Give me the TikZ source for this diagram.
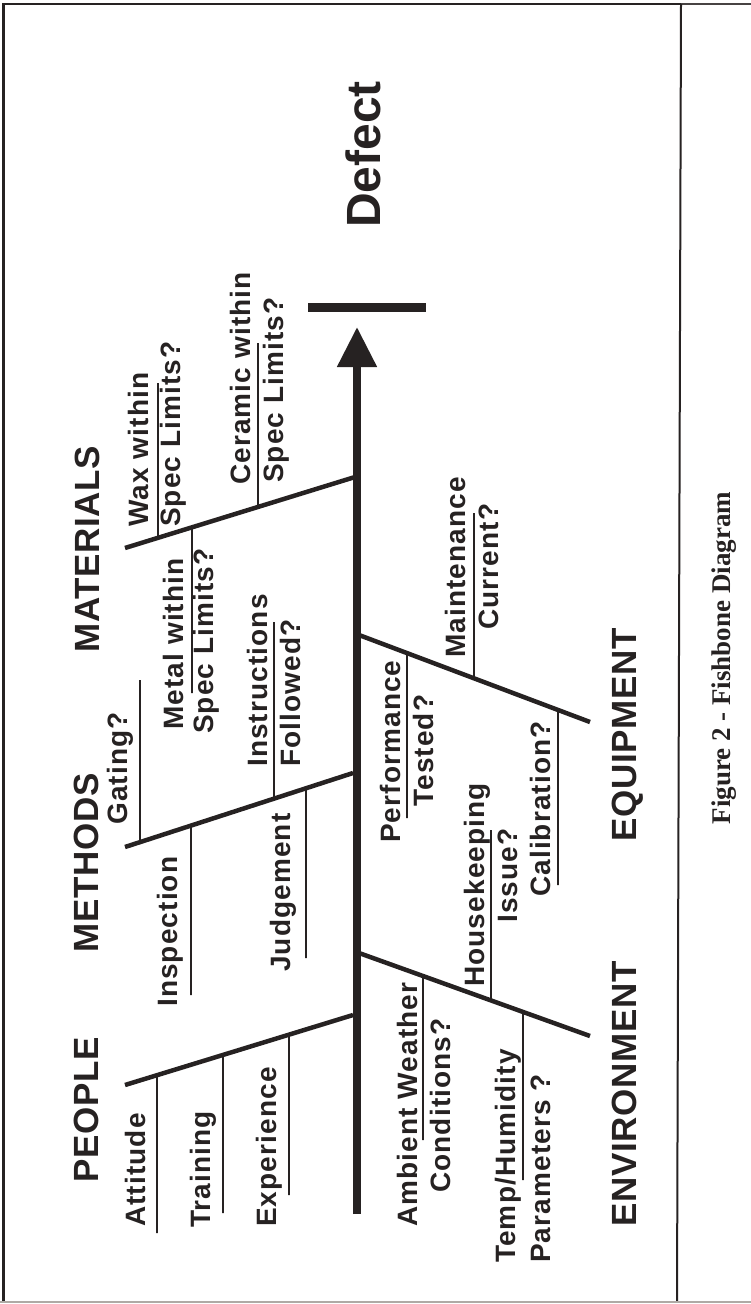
\documentclass[tikz,border=0pt]{standalone}
\usepackage{fontspec}
\setmainfont{Liberation Sans}
\newfontfamily\labfont[LetterSpace=4]{Liberation Sans}
\newfontfamily\hdfont[LetterSpace=2]{Liberation Sans}
\newfontfamily\capfont{Liberation Serif}
\usetikzlibrary{calc,arrows.meta}
\definecolor{ink}{RGB}{38,34,34}
\definecolor{faint}{RGB}{175,170,165}
\begin{document}
\begin{tikzpicture}[x=1pt,y=-1pt,
  lab/.style={font=\labfont\bfseries\fontsize{28}{30}\selectfont, text=ink, rotate=90, anchor=base west, inner sep=0pt},
  head/.style={font=\hdfont\bfseries\fontsize{35}{38}\selectfont, text=ink, rotate=90, anchor=base west, inner sep=0pt},
  branch/.style={draw=ink, line width=4.5pt},
  subbone/.style={draw=ink, line width=1.6pt},
  spine/.style={draw=ink, line width=8pt, -{Triangle[width=38pt,length=40pt]}},
  frame/.style={draw=ink, line width=2.5pt}
]
\useasboundingbox (0,0) rectangle (751,1304);
% frame
\coordinate (fTL) at (3.5,4);
\coordinate (fBL) at (3.5,1302);
\coordinate (fTD) at (681,4);
\coordinate (fBD) at (677,1302);
\coordinate (fTR) at (751,4);
\coordinate (fBR) at (751,1302);
\coordinate (fB0) at (0,1302);
\draw[frame] (fBL) -- (fTL) -- (fTD);
\draw[ink!85, line width=1.5pt] (fTD) -- (fTR);
\draw[ink, line width=2pt] (fTD) -- (fBD);
\draw[faint, line width=2pt] (fB0) -- (fBR);

% spine and head
\coordinate (tail) at (357,1214);
\coordinate (tip) at (357,327);
\draw[spine] (tail) -- (tip);
\coordinate (barL) at (308,307.5);
\coordinate (barR) at (426,307.5);
\draw[draw=ink, line width=9pt] (barL) -- (barR);
\node[font=\bfseries\fontsize{48}{50}\selectfont, text=ink, rotate=90, anchor=base west, inner sep=0pt] (defect) at (380,228) {Defect};

% branches
\coordinate (mA) at (125,548);  \coordinate (mB) at (355,477);
\coordinate (tA) at (125,847);  \coordinate (tB) at (353,773);
\coordinate (pA) at (125,1085); \coordinate (pB) at (353,1015);
\coordinate (qA) at (359,635);  \coordinate (qB) at (590,722);
\coordinate (eA) at (359,953);  \coordinate (eB) at (590,1036);
\draw[branch] (mA) -- (mB);
\draw[branch] (tA) -- (tB);
\draw[branch] (pA) -- (pB);
\draw[branch] (qB) -- (qA);
\draw[branch] (eB) -- (eA);

% headings
\node[head] (hMat) at (99,653) {MATERIALS};
\node[head] (hMeth) at (98,953) {METHODS};
\node[head] (hPeo) at (98,1183) {PEOPLE};
\node[head] (hEq) at (636,842) {EQUIPMENT};
\node[head] (hEnv) at (636,1227) {ENVIRONMENT};

% materials
\node[lab] (wax1) at (148,527) {Wax within};
\node[lab] (wax2) at (180,527) {Spec Limits?};
\node[lab] (met1) at (183,730) {Metal within};
\node[lab] (met2) at (213,734) {Spec Limits?};
\node[lab] (cer1) at (250,485) {Ceramic within};
\node[lab] (cer2) at (283,483) {Spec Limits?};
\coordinate (waxE) at (158,383);
\coordinate (metE) at (192,693);
\coordinate (cerE) at (258,343);
\draw[subbone] ($(mA)!{(158-125)/230}!(mB)$) -- (waxE);
\draw[subbone] ($(mA)!{(192-125)/230}!(mB)$) -- (metE);
\draw[subbone] ($(mA)!{(258-125)/230}!(mB)$) -- (cerE);

% methods
\node[lab] (gat) at (127,825) {Gating?};
\node[lab] (insp) at (177,1007) {Inspection};
\node[lab] (ins1) at (267,767) {Instructions};
\node[lab] (ins2) at (300,767) {Followed?};
\node[lab] (judg) at (290,972) {Judgement};
\coordinate (gatE) at (140,680);
\coordinate (inspE) at (191,995);
\coordinate (insE) at (274,622);
\coordinate (judgE) at (306,958);
\draw[subbone] ($(tA)!{(140-125)/228}!(tB)$) -- (gatE);
\draw[subbone] ($(tA)!{(191-125)/228}!(tB)$) -- (inspE);
\draw[subbone] ($(tA)!{(274-125)/228}!(tB)$) -- (insE);
\draw[subbone] ($(tA)!{(306-125)/228}!(tB)$) -- (judgE);

% people
\node[lab] (att) at (145,1227) {Attitude};
\node[lab] (trn) at (210,1228) {Training};
\node[lab] (exper) at (276,1227) {Experience};
\coordinate (attE) at (157,1233);
\coordinate (trnE) at (223,1213);
\coordinate (expE) at (289,1195);
\draw[subbone] ($(pA)!{(157-125)/228}!(pB)$) -- (attE);
\draw[subbone] ($(pA)!{(223-125)/228}!(pB)$) -- (trnE);
\draw[subbone] ($(pA)!{(289-125)/228}!(pB)$) -- (expE);

% equipment
\node[lab] (perf1) at (400,843) {Performance};
\node[lab] (perf2) at (433,807) {Tested?};
\node[lab] (mnt1) at (465,658) {Maintenance};
\node[lab] (mnt2) at (498,630) {Current?};
\node[lab] (cal) at (550,897) {Calibration?};
\coordinate (perfE) at (407,818);
\coordinate (mntE) at (474,513);
\coordinate (calE) at (558,885);
\draw[subbone] ($(qA)!{(407-359)/231}!(qB)$) -- (perfE);
\draw[subbone] ($(qA)!{(474-359)/231}!(qB)$) -- (mntE);
\draw[subbone] ($(qA)!{(558-359)/231}!(qB)$) -- (calE);

% environment
\node[lab] (amb1) at (417,1227) {Ambient Weather};
\node[lab] (amb2) at (450,1193) {Conditions?};
\node[lab] (hk1) at (484,987) {Housekeeping};
\node[lab] (hk2) at (517,923) {Issue?};
\node[lab] (tmp1) at (515,1263) {Temp/Humidity};
\node[lab] (tmp2) at (550,1263) {Parameters ?};
\coordinate (ambE) at (423,1140);
\coordinate (hkE) at (491,830);
\coordinate (tmpE) at (523,1180);
\draw[subbone] ($(eA)!{(423-359)/231}!(eB)$) -- (ambE);
\draw[subbone] ($(eA)!{(491-359)/231}!(eB)$) -- (hkE);
\draw[subbone] ($(eA)!{(523-359)/231}!(eB)$) -- (tmpE);

% caption
\node[font=\capfont\bfseries\fontsize{27}{29}\selectfont, text=ink, rotate=90, anchor=base, inner sep=0pt] (caption) at (730,658) {Figure 2 - Fishbone Diagram};
\end{tikzpicture}
\end{document}
